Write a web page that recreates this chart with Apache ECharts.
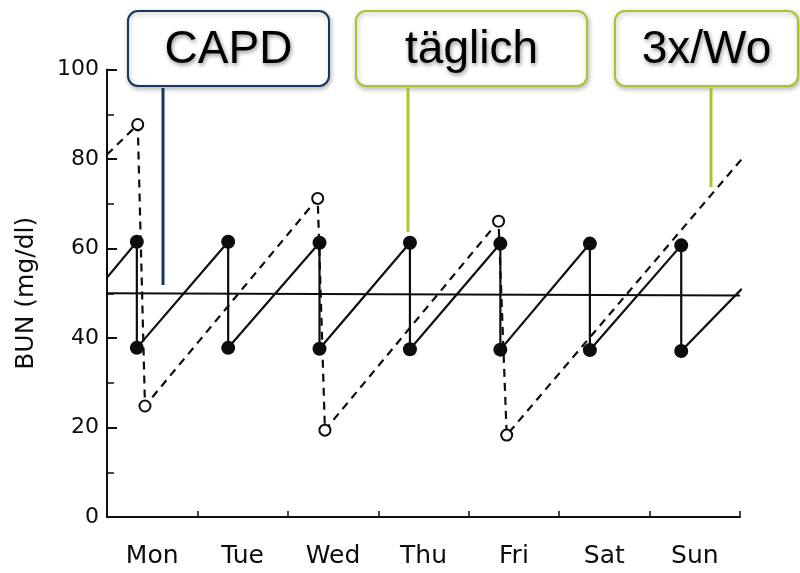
<!DOCTYPE html>
<html>
<head>
<meta charset="utf-8">
<script src="https://cdn.jsdelivr.net/npm/echarts@6/dist/echarts.min.js"></script>
<style>
html,body{margin:0;padding:0;background:#fff;}
#chart{width:800px;height:573px;}
</style>
</head>
<body>
<div id="chart"></div>
<script>
// ---- data ----
var days = ['Mon', 'Tue', 'Wed', 'Thu', 'Fri', 'Sat', 'Sun'];
var yTicks = [0, 20, 40, 60, 80, 100];

// CAPD: steady-state level (start / end of week)
var capdX = [0, 7];
var capdVal = [50, 49.5];

// täglich (daily dialysis): session times (days), pre- and post-dialysis BUN
var dailyX = [0.33, 1.34, 2.35, 3.35, 4.35, 5.34, 6.35];
var dailyPeak = [61.5, 61.5, 61.3, 61.3, 61.1, 61.1, 60.7];
var dailyTrough = [37.8, 37.8, 37.6, 37.5, 37.4, 37.3, 37.1];
var dailyStart = [0, 53.5];
var dailyEnd = [7.02, 51];

// 3x/Wo (three times a week): pre-dialysis time & BUN, post-dialysis time & BUN
var threeXPre = [0.34, 2.33, 4.33];
var threePeak = [87.7, 71.2, 66.1];
var threeXPost = [0.42, 2.41, 4.42];
var threeTrough = [24.8, 19.4, 18.3];
var threeStart = [0, 81];
var threeEnd = [7.07, 81.2];

// ---- build series data ----
var capdData = capdX.map(function (x, i) { return [x, capdVal[i]]; });

var dailyLine = [dailyStart];
var dailyDots = [];
dailyX.forEach(function (x, i) {
  dailyLine.push([x, dailyPeak[i]]);
  dailyLine.push([x, dailyTrough[i]]);
  dailyDots.push([x, dailyPeak[i]]);
  dailyDots.push([x, dailyTrough[i]]);
});
dailyLine.push(dailyEnd);

var threeLine = [threeStart];
var threeDots = [];
threeXPre.forEach(function (x, i) {
  threeLine.push([x, threePeak[i]]);
  threeLine.push([threeXPost[i], threeTrough[i]]);
  threeDots.push([x, threePeak[i]]);
  threeDots.push([threeXPost[i], threeTrough[i]]);
});
threeLine.push(threeEnd);

var INK = '#0d0d0d';
var NAVY = '#17375e';
var LIME = '#a8c62c';

function box(x, w, color, text, lineX, lineY2) {
  return [
    {
      type: 'rect', z: 10,
      shape: { x: x, y: 11, width: w, height: 75, r: 10 },
      style: { fill: '#fff', stroke: color, lineWidth: 2,
        shadowBlur: 5, shadowColor: 'rgba(0,0,0,0.28)', shadowOffsetX: 1, shadowOffsetY: 2 }
    },
    {
      type: 'text', z: 11,
      style: { x: x + w / 2, y: 50, text: text, align: 'center', verticalAlign: 'middle',
        font: '46px "Liberation Sans", Arial, sans-serif', fill: '#000',
        textShadowColor: 'rgba(0,0,0,0.45)', textShadowBlur: 4, textShadowOffsetX: 1, textShadowOffsetY: 2 }
    },
    {
      type: 'line', z: 10,
      shape: { x1: lineX, y1: 88, x2: lineX, y2: lineY2 },
      style: { stroke: color, lineWidth: 3 }
    }
  ];
}

var chart = echarts.init(document.getElementById('chart'), null, { renderer: 'canvas' });
chart.setOption({
  animation: false,
  backgroundColor: '#fff',
  grid: { left: 107, right: 60, top: 69.5, bottom: 56 },
  xAxis: [
    {
      type: 'value', min: 0, max: 7, interval: 1,
      axisLine: { show: true, lineStyle: { color: INK, width: 2 } },
      axisTick: { show: true, inside: true, length: 6, lineStyle: { color: INK, width: 1.5 } },
      axisLabel: { show: false },
      splitLine: { show: false }
    },
    {
      type: 'category', data: days, position: 'bottom', boundaryGap: true,
      axisLine: { show: false }, axisTick: { show: false },
      axisLabel: { color: INK, fontSize: 25, fontFamily: 'DejaVu Sans', margin: 27 }
    }
  ],
  yAxis: {
    type: 'value', min: 0, max: 100, interval: 20,
    name: 'BUN (mg/dl)', nameLocation: 'middle', nameRotate: 90, nameGap: 68,
    nameTextStyle: { color: INK, fontSize: 25, fontFamily: 'DejaVu Sans' },
    axisLine: { show: true, lineStyle: { color: INK, width: 2 } },
    axisTick: { show: true, inside: true, length: 10, lineStyle: { color: INK, width: 2 } },
    minorTick: { show: true, splitNumber: 2, length: 7, lineStyle: { color: INK, width: 1.5 } },
    axisLabel: { color: INK, fontSize: 22, fontFamily: 'DejaVu Sans', margin: 8,
      formatter: function (v) { return yTicks.indexOf(v) >= 0 ? String(v) : ''; } },
    splitLine: { show: false }
  },
  series: [
    { name: 'CAPD', type: 'line', data: capdData, symbol: 'none', clip: false,
      lineStyle: { color: INK, width: 2.2 } },
    { name: 'täglich', type: 'line', data: dailyLine, symbol: 'none', clip: false,
      lineStyle: { color: INK, width: 2.2 } },
    { name: '3x/Wo', type: 'line', data: threeLine, symbol: 'none', clip: false,
      lineStyle: { color: INK, width: 2.2, type: [8, 6] } },
    { name: 'täglich dots', type: 'scatter', data: dailyDots, symbol: 'circle', symbolSize: 14,
      itemStyle: { color: INK, opacity: 1 }, z: 5 },
    { name: '3x/Wo dots', type: 'scatter', data: threeDots, symbol: 'circle', symbolSize: 11,
      itemStyle: { color: '#fff', borderColor: INK, borderWidth: 2, opacity: 1 }, z: 5 }
  ],
  graphic: [].concat(
    box(128, 201, NAVY, 'CAPD', 163, 285),
    box(356, 231, LIME, 'täglich', 408, 232),
    box(615, 183, LIME, '3x/Wo', 711, 187)
  )
});
</script>
</body>
</html>
